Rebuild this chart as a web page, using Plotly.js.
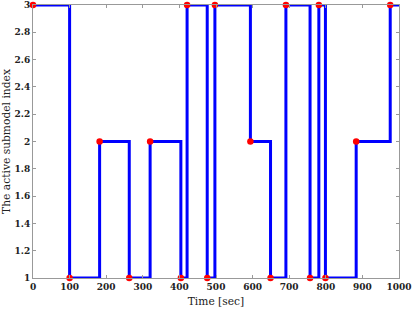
<!DOCTYPE html>
<html>
<head>
<meta charset="utf-8">
<script src="https://cdn.plot.ly/plotly-3.0.1.min.js"></script>
<style>
  html, body { margin: 0; padding: 0; background: #fff; }
  #chart { width: 415px; height: 313px; }
</style>
</head>
<body>
<div id="chart"></div>
<script>
// switching instants (sec) and the submodel that becomes active there
const switchTimes = [0, 100, 182, 263, 320, 404, 421, 476, 497, 594, 649, 691, 757, 781, 799, 883, 976];
const activeModel = [3, 1, 2, 1, 2, 1, 3, 1, 3, 2, 1, 3, 1, 3, 1, 2, 3];
const endTime = 1000;

const xTicks = [0, 100, 200, 300, 400, 500, 600, 700, 800, 900, 1000];
const yTicks = [1, 1.2, 1.4, 1.6, 1.8, 2, 2.2, 2.4, 2.6, 2.8, 3];

const serif = 'DejaVu Serif, serif';

const stepTrace = {
    x: switchTimes.concat([endTime]),
    y: activeModel.concat([activeModel[activeModel.length - 1]]),
    mode: 'lines',
    type: 'scatter',
    line: { color: '#0000ff', width: 3, shape: 'hv' },
    hoverinfo: 'skip'
};

const switchTrace = {
    x: switchTimes,
    y: activeModel,
    mode: 'markers',
    type: 'scatter',
    marker: { color: '#ff0000', size: 6.5 },
    cliponaxis: false
};

const axisCommon = {
    showgrid: false,
    zeroline: false,
    showline: true,
    linecolor: '#999',
    linewidth: 1,
    mirror: 'ticks',
    ticks: 'inside',
    ticklen: 3,
    tickcolor: '#999',
    tickfont: { family: serif, size: 9, color: '#222', weight: 'bold' }
};

const layout = {
    width: 415,
    height: 313,
    margin: { l: 33, r: 16, t: 5, b: 35 },
    showlegend: false,
    plot_bgcolor: '#fff',
    paper_bgcolor: '#fff',
    font: { family: serif, size: 10, color: '#222' },
    xaxis: Object.assign({}, axisCommon, {
        range: [0, 1000],
        tickvals: xTicks,
        ticktext: xTicks.map(String),
        title: { text: 'Time [sec]', font: { family: serif, size: 10.7, color: '#222' }, standoff: 6 }
    }),
    yaxis: Object.assign({}, axisCommon, {
        range: [1, 3],
        tickvals: yTicks,
        ticktext: yTicks.map(v => String(v)),
        title: { text: 'The active submodel index', font: { family: serif, size: 10.7, color: '#222' }, standoff: 4 }
    })
};

Plotly.newPlot('chart', [stepTrace, switchTrace], layout, { displayModeBar: false, staticPlot: true });
</script>
</body>
</html>
